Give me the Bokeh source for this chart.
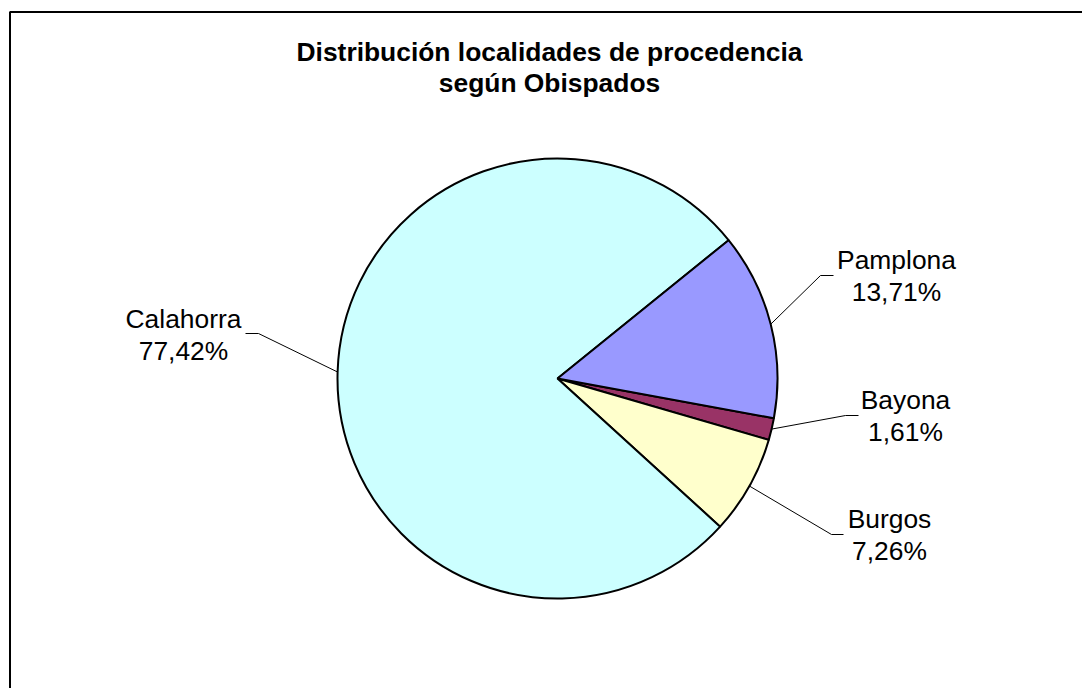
import math
from bokeh.plotting import figure
from bokeh.models import Range1d, ColumnDataSource
from bokeh.core.properties import value
from bokeh.embed import file_html
from bokeh.resources import INLINE

# ---- data ----
categories = ["Bayona", "Burgos", "Calahorra", "Pamplona"]
percentages = [1.61, 7.26, 77.42, 13.71]
colors = ["#993366", "#FFFFCC", "#CCFFFF", "#9999FF"]
title_lines = ["Distribución localidades de procedencia", "según Obispados"]

# ---- layout (pixel coordinates of the picture) ----
W, H = 1082, 688
def X(sx):
    return sx
def Y(sy):
    return H - sy

CX, CY, R = 557, 378, 220          # pie centre and radius (px)
FIRST_ANGLE = 100.4                 # clockwise from 12 o'clock, degrees
FONT = "Liberation Sans"

# label anchor positions: center x, baseline of first line
label_pos = {
    "Bayona": (905, 399),
    "Burgos": (889, 518),
    "Calahorra": (183, 318),
    "Pamplona": (896, 259),
}
# leader elbow: (x where text-side horizontal part starts, x of elbow, y)
leader_elbow = {
    "Bayona": (858, 845, 415),
    "Burgos": (843, 831, 534),
    "Calahorra": (245, 258, 333),
    "Pamplona": (833, 820, 275),
}
LINE_GAP = 32

p = figure(width=W, height=H, x_range=Range1d(0, W), y_range=Range1d(0, H),
           output_backend="svg", toolbar_location=None, min_border=0,
           x_axis_type=None, y_axis_type=None)
p.grid.visible = False
p.outline_line_color = None
p.background_fill_color = "white"
p.border_fill_color = "white"

# chart area border (extends beyond the visible page on right/bottom)
p.line(x=[X(9.5), X(9.5), X(1300)], y=[Y(900), Y(11.5), Y(11.5)],
       line_color="black", line_width=2)

# wedges
total = sum(percentages)
starts, ends, mids = [], [], []
a = FIRST_ANGLE
for v in percentages:
    span = v / total * 360.0
    starts.append(a)
    ends.append(a + span)
    mids.append(a + span / 2)
    a += span

src = ColumnDataSource(dict(
    x=[X(CX)] * len(categories), y=[Y(CY)] * len(categories),
    start=[math.radians(90 - e) for e in ends],
    end=[math.radians(90 - s) for s in starts],
    color=colors,
))
p.wedge(x="x", y="y", radius=R, start_angle="start", end_angle="end",
        direction="anticlock", fill_color="color", line_color="black",
        line_width=2, source=src)

# leader lines and labels
for cat, v, m in zip(categories, percentages, mids):
    ex = CX + R * math.sin(math.radians(m))
    ey = CY - R * math.cos(math.radians(m))
    x0, x1, ly = leader_elbow[cat]
    p.line(x=[X(x0), X(x1), X(ex)], y=[Y(ly), Y(ly), Y(ey)],
           line_color="black", line_width=1)
    tx, ty = label_pos[cat]
    pct = f"{v:.2f}".replace(".", ",") + "%"
    p.text(x=[X(tx), X(tx)], y=[Y(ty), Y(ty + LINE_GAP)], text=[cat, pct],
           text_font=value(FONT), text_font_size="26.4px", text_color="black",
           text_align="center", text_baseline="alphabetic")

# title
p.text(x=[X(549), X(549)], y=[Y(51), Y(82)], text=title_lines,
       text_font=value(FONT), text_font_size="26.4px", text_font_style="bold",
       text_color="black", text_align="center", text_baseline="alphabetic")

open("out.html", "w").write(file_html(p, INLINE))
